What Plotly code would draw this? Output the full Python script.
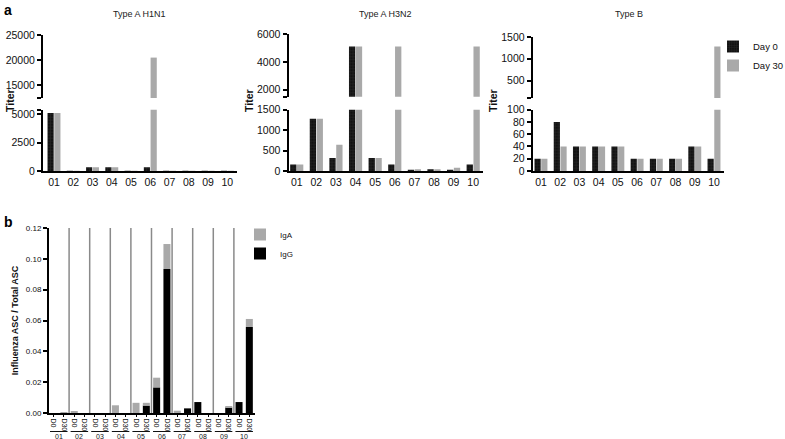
import plotly.graph_objects as go

W, H = 785, 439

# ---------------- data ----------------
subjects = ["01", "02", "03", "04", "05", "06", "07", "08", "09", "10"]

h1n1_day0 = [5120, 20, 320, 320, 20, 320, 20, 20, 20, 20]
h1n1_day30 = [5120, 20, 320, 320, 20, 20480, 20, 20, 20, 20]
h3n2_day0 = [160, 1280, 320, 5120, 320, 160, 20, 40, 20, 160]
h3n2_day30 = [160, 1280, 640, 5120, 320, 5120, 40, 40, 80, 5120]
typeb_day0 = [20, 80, 40, 40, 40, 20, 20, 20, 40, 20]
typeb_day30 = [20, 40, 40, 40, 40, 20, 20, 20, 40, 1280]

timepoints = ["D0", "D30"]
asc_igg = [0, 0, 0, 0, 0, 0, 0, 0, 0, 0.0048,
           0.0166, 0.0934, 0, 0.0030, 0.0071, 0, 0, 0.0036, 0.0071, 0.0558]
asc_iga = [0, 0.0006, 0.0009, 0, 0, 0, 0.0050, 0, 0.0066, 0.0018,
           0.0063, 0.0162, 0.0015, 0, 0, 0, 0, 0.0004, 0, 0.0052]

# ---------------- helpers (reference pixel -> paper) ----------------
def fx(px):
    return px / W

def fy(py):
    return 1 - py / H

FONT = "Liberation Sans, Arial, sans-serif"
BLACK = "#111111"
GREY = "#a9a9a9"

fig = go.Figure()

panels = [
    dict(title="Type A H1N1", d0=h1n1_day0, d30=h1n1_day30,
         xdom=(43, 237), xr=(-0.57, 9.5),
         low=(0, 5400), lowdom=(109.7, 171),
         lowticks=[0, 2500, 5000, 5400], lowtext=["0", "2500", "5000", ""],
         up=(12400, 25000), updom=(35, 98),
         upticks=[12400, 15000, 20000, 25000], uptext=["", "15000", "20000", "25000"],
         title_x=139, titer_x=10),
    dict(title="Type A H3N2", d0=h3n2_day0, d30=h3n2_day30,
         xdom=(288.5, 483), xr=(-0.42, 9.5),
         low=(0, 1500), lowdom=(109.7, 171),
         lowticks=[0, 500, 1000, 1500], lowtext=["0", "500", "1000", "1500"],
         up=(1500, 6000), updom=(34.3, 96.7),
         upticks=[1500, 2000, 4000, 6000], uptext=["", "2000", "4000", "6000"],
         title_x=385, titer_x=249),
    dict(title="Type B", d0=typeb_day0, d30=typeb_day30,
         xdom=(532.7, 724), xr=(-0.43, 9.52),
         low=(0, 100), lowdom=(109.7, 171),
         lowticks=[0, 20, 40, 60, 80, 100], lowtext=["0", "20", "40", "60", "80", "100"],
         up=(100, 1500), updom=(37, 98),
         upticks=[100, 500, 1000, 1500], uptext=["", "500", "1000", "1500"],
         title_x=629, titer_x=493),
]

axis_common = dict(showline=True, linecolor="black", linewidth=2, mirror=False,
                   showgrid=False, zeroline=False, fixedrange=True, automargin=False)

annotations = []
for i, p in enumerate(panels):
    lo = 2 * i + 1
    up = 2 * i + 2
    xl = "x" if lo == 1 else f"x{lo}"
    yl = "y" if lo == 1 else f"y{lo}"
    xu, yu = f"x{up}", f"y{up}"
    for seg_x, seg_y in ((xl, yl), (xu, yu)):
        show = (i == 0 and seg_x == "x")
        fig.add_trace(go.Bar(
            x=subjects, y=p["d0"], name="Day 0", xaxis=seg_x, yaxis=seg_y,
            marker=dict(color=BLACK, line=dict(width=0),
                        pattern=dict(shape="+", fgcolor="#3c3c3c", bgcolor=BLACK,
                                     size=3, solidity=0.35)),
            legendgroup="d0", showlegend=show, legend="legend"))
        fig.add_trace(go.Bar(
            x=subjects, y=p["d30"], name="Day 30", xaxis=seg_x, yaxis=seg_y,
            marker=dict(color=GREY, line=dict(width=0)),
            legendgroup="d30", showlegend=show, legend="legend"))

    xkey_l = "xaxis" if lo == 1 else f"xaxis{lo}"
    ykey_l = "yaxis" if lo == 1 else f"yaxis{lo}"
    fig.update_layout(**{
        xkey_l: dict(domain=[fx(p["xdom"][0]), fx(p["xdom"][1])], anchor=yl,
                     range=list(p["xr"]), type="category", categoryorder="array",
                     categoryarray=subjects, ticks="", showline=True, linecolor="black",
                     linewidth=2, showgrid=False, zeroline=False, automargin=False,
                     fixedrange=True,
                     tickfont=dict(size=10.5, color="#111", family=FONT)),
        ykey_l: dict(domain=[fy(p["lowdom"][1]), fy(p["lowdom"][0])], anchor=xl,
                     range=list(p["low"]), tickvals=p["lowticks"], ticktext=p["lowtext"],
                     ticks="outside", ticklen=4, tickwidth=2, tickcolor="black",
                     tickfont=dict(size=10.5, color="#111", family=FONT), **axis_common),
        f"xaxis{up}": dict(domain=[fx(p["xdom"][0]), fx(p["xdom"][1])], anchor=yu,
                           range=list(p["xr"]), type="category", categoryorder="array",
                           categoryarray=subjects, visible=False, automargin=False,
                           fixedrange=True),
        f"yaxis{up}": dict(domain=[fy(p["updom"][1]), fy(p["updom"][0])], anchor=xu,
                           range=list(p["up"]), tickvals=p["upticks"], ticktext=p["uptext"],
                           ticks="outside", ticklen=4, tickwidth=2, tickcolor="black",
                           tickfont=dict(size=10.5, color="#111", family=FONT), **axis_common),
    })
    annotations.append(dict(text=p["title"], x=fx(p["title_x"]), y=fy(14), xref="paper",
                            yref="paper", showarrow=False, xanchor="center", yanchor="middle",
                            font=dict(size=9, color="#222", family=FONT)))
    annotations.append(dict(text="<b>Titer</b>", x=fx(p["titer_x"]), y=fy(101), xref="paper",
                            yref="paper", showarrow=False, textangle=-90, xanchor="center",
                            yanchor="middle", font=dict(size=10.5, color="#111", family=FONT)))

# ---------------- panel b ----------------
idx = list(range(len(asc_igg)))
tick_text = [timepoints[k % 2] for k in idx]

fig.add_trace(go.Bar(x=idx, y=asc_igg, name="IgG", xaxis="x7", yaxis="y7",
                     width=0.68, offset=-0.34,
                     marker=dict(color="#000000", line=dict(width=0)),
                     legend="legend2", legendrank=2))
fig.add_trace(go.Bar(x=idx, y=asc_iga, base=asc_igg, name="IgA", xaxis="x7", yaxis="y7",
                     width=0.68, offset=-0.34,
                     marker=dict(color=GREY, line=dict(width=0)),
                     legend="legend2", legendrank=1))

fig.update_layout(
    xaxis7=dict(domain=[fx(49), fx(255)], anchor="y7", range=[-0.45, 19.55],
                tickvals=idx, ticktext=tick_text, tickangle=90,
                ticks="outside", ticklen=2, tickwidth=1, tickcolor="black",
                tickfont=dict(size=7, color="#111", family=FONT),
                showline=True, linecolor="black", linewidth=2, fixedrange=True,
                showgrid=False, zeroline=False, automargin=False),
    yaxis7=dict(domain=[fy(413), fy(228)], anchor="x7", range=[0, 0.12],
                tickvals=[0, 0.02, 0.04, 0.06, 0.08, 0.10, 0.12], tickformat=".2f",
                ticks="outside", ticklen=4, tickwidth=1.5, tickcolor="black",
                tickfont=dict(size=8, color="#111", family=FONT),
                title=dict(text="<b>Influenza ASC / Total ASC</b>", standoff=6,
                           font=dict(size=9, color="#111", family=FONT)),
                **axis_common),
)

shapes = []
n_subj = len(subjects)
for k in range(1, n_subj):
    sep = 2 * k - 0.5
    shapes.append(dict(type="line", xref="x7", yref="y7", x0=sep, x1=sep, y0=0, y1=0.12,
                       line=dict(color="#8a8a8a", width=1.5), layer="below"))
for k in range(n_subj):
    shapes.append(dict(type="line", xref="x7", yref="paper", x0=2 * k - 0.35, x1=2 * k + 1.35,
                       y0=fy(431.5), y1=fy(431.5), line=dict(color="#111", width=1)))
    annotations.append(dict(text=subjects[k], x=2 * k + 0.5, y=fy(436), xref="x7",
                            yref="paper", showarrow=False, xanchor="center", yanchor="middle",
                            font=dict(size=7, color="#111", family=FONT)))

annotations.append(dict(text="<b>a</b>", x=fx(1.5), y=fy(10), xref="paper", yref="paper",
                        showarrow=False, xanchor="left", yanchor="middle",
                        font=dict(size=14, color="black", family=FONT)))
annotations.append(dict(text="<b>b</b>", x=fx(1.5), y=fy(222), xref="paper", yref="paper",
                        showarrow=False, xanchor="left", yanchor="middle",
                        font=dict(size=14, color="black", family=FONT)))

fig.update_layout(
    width=W, height=H,
    margin=dict(l=0, r=0, t=0, b=0, autoexpand=False),
    paper_bgcolor="white", plot_bgcolor="white",
    barmode="group", bargap=0.3, bargroupgap=0.08,
    font=dict(family=FONT, color="#111"),
    annotations=annotations, shapes=shapes,
    hovermode=False,
    legend=dict(x=fx(713), y=fy(32), xanchor="left", yanchor="top",
                font=dict(size=9.5, color="#111", family=FONT),
                bgcolor="rgba(0,0,0,0)", tracegroupgap=0, itemwidth=30),
    legend2=dict(x=fx(240), y=fy(220), xanchor="left", yanchor="top",
                 font=dict(size=8, color="#111", family=FONT),
                 bgcolor="rgba(0,0,0,0)", tracegroupgap=0, itemwidth=30),
)

# remove the browser's default 8px page margin so the figure fills the view exactly
fig.write_html("out.html",
               config={"displayModeBar": False},
               post_script="document.body.style.margin='0px';document.body.style.overflow='hidden';")
